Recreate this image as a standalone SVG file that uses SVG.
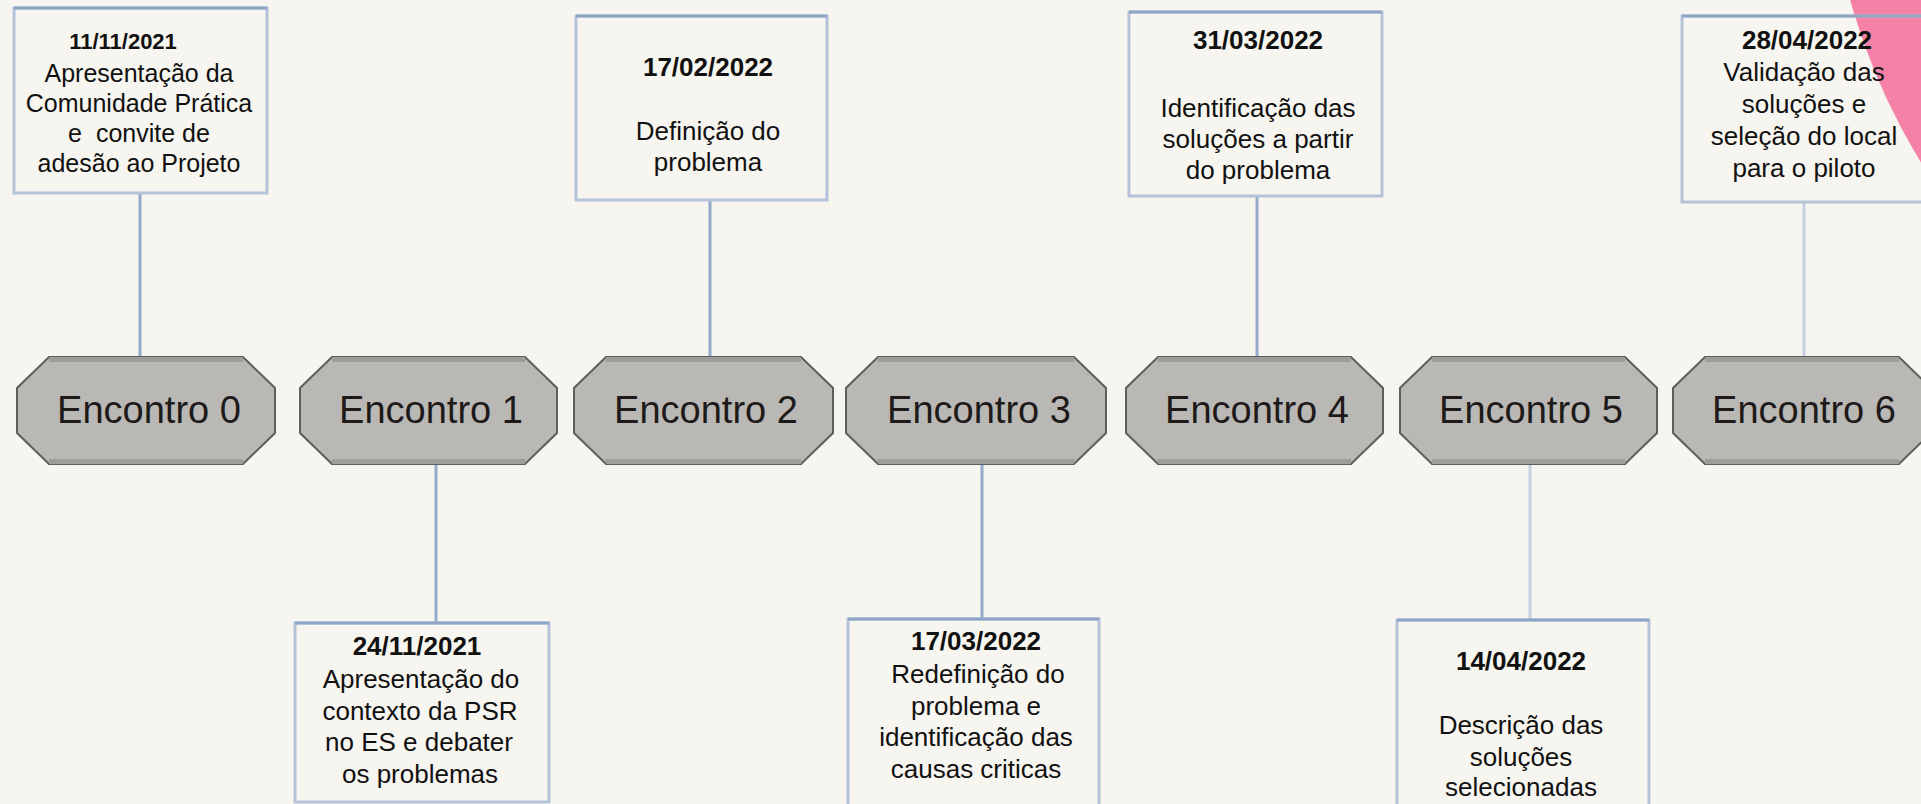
<svg xmlns="http://www.w3.org/2000/svg" width="1921" height="804" viewBox="0 0 1921 804">
<style>
.bg{fill:#F7F5EF}
.oct{fill:#B9B8B4;stroke:#5E5E5E;stroke-width:2}
.band{fill:#9E9D9A}
.lbl{font-family:"Liberation Sans",Arial,sans-serif;font-size:38px;fill:#1E1A1A;text-anchor:middle}
.box{fill:none;stroke:#B4C3D9;stroke-width:3}
.boxtop{stroke:#8EA5C8;stroke-width:3}
.t{font-family:"Liberation Sans",Arial,sans-serif;font-size:26px;fill:#111;text-anchor:middle}
.d{font-weight:bold}
.c{stroke:#94AACB;stroke-width:3;fill:none}
.cl{stroke:#C6D1E0;stroke-width:3;fill:none}
</style>
<rect class="bg" x="0" y="0" width="1921" height="804"/>
<circle cx="2462" cy="-170" r="635" fill="#F582A6"/>

<g id="connectors">
<line class="c" x1="140" y1="193" x2="140" y2="362"/>
<line class="c" x1="436" y1="460" x2="436" y2="623"/>
<line class="c" x1="710" y1="200" x2="710" y2="362"/>
<line class="c" x1="982" y1="460" x2="982" y2="619"/>
<line class="c" x1="1257" y1="196" x2="1257" y2="362"/>
<line class="cl" x1="1530" y1="460" x2="1530" y2="620"/>
<line class="cl" x1="1804" y1="202" x2="1804" y2="362"/>
</g>

<g id="encontro0">
<polygon class="oct" points="49,357 243,357 275,388 275,433 243,464 49,464 17,433 17,388"/>
<rect class="band" x="49" y="357" width="194" height="5"/>
<rect class="band" x="49" y="459" width="194" height="5"/>
<text class="lbl" x="149" y="423">Encontro 0</text>
</g>
<g id="encontro1">
<polygon class="oct" points="332,357 525,357 557,388 557,433 525,464 332,464 300,433 300,388"/>
<rect class="band" x="332" y="357" width="193" height="5"/>
<rect class="band" x="332" y="459" width="193" height="5"/>
<text class="lbl" x="431" y="423">Encontro 1</text>
</g>
<g id="encontro2">
<polygon class="oct" points="606,357 801,357 833,388 833,433 801,464 606,464 574,433 574,388"/>
<rect class="band" x="606" y="357" width="195" height="5"/>
<rect class="band" x="606" y="459" width="195" height="5"/>
<text class="lbl" x="706" y="423">Encontro 2</text>
</g>
<g id="encontro3">
<polygon class="oct" points="878,357 1074,357 1106,388 1106,433 1074,464 878,464 846,433 846,388"/>
<rect class="band" x="878" y="357" width="196" height="5"/>
<rect class="band" x="878" y="459" width="196" height="5"/>
<text class="lbl" x="979" y="423">Encontro 3</text>
</g>
<g id="encontro4">
<polygon class="oct" points="1158,357 1351,357 1383,388 1383,433 1351,464 1158,464 1126,433 1126,388"/>
<rect class="band" x="1158" y="357" width="193" height="5"/>
<rect class="band" x="1158" y="459" width="193" height="5"/>
<text class="lbl" x="1257" y="423">Encontro 4</text>
</g>
<g id="encontro5">
<polygon class="oct" points="1432,357 1625,357 1657,388 1657,433 1625,464 1432,464 1400,433 1400,388"/>
<rect class="band" x="1432" y="357" width="193" height="5"/>
<rect class="band" x="1432" y="459" width="193" height="5"/>
<text class="lbl" x="1531" y="423">Encontro 5</text>
</g>
<g id="encontro6">
<polygon class="oct" points="1705,357 1899,357 1931,388 1931,433 1899,464 1705,464 1673,433 1673,388"/>
<rect class="band" x="1705" y="357" width="194" height="5"/>
<rect class="band" x="1705" y="459" width="194" height="5"/>
<text class="lbl" x="1804" y="423">Encontro 6</text>
</g>

<g id="box0">
<rect class="box" x="14" y="8" width="253" height="185"/>
<line class="boxtop" x1="14" y1="8" x2="267" y2="8"/>
<text class="t d" x="123" y="49" style="font-size:22px">11/11/2021</text>
<text class="t" style="font-size:25px" x="139" y="82">Apresentação da</text>
<text class="t" style="font-size:25px" x="139" y="112">Comunidade Prática</text>
<text class="t" style="font-size:25px;white-space:pre" x="139" y="142" xml:space="preserve">e  convite de</text>
<text class="t" style="font-size:25px" x="139" y="172">adesão ao Projeto</text>
</g>

<g id="box1">
<rect class="box" x="295" y="623" width="254" height="179"/>
<line class="boxtop" x1="295" y1="623" x2="549" y2="623"/>
<text class="t d" x="417" y="655">24/11/2021</text>
<text class="t" x="421" y="688">Apresentação do</text>
<text class="t" x="420" y="720">contexto da PSR</text>
<text class="t" x="419" y="751">no ES e debater</text>
<text class="t" x="420" y="783">os problemas</text>
</g>

<g id="box2">
<rect class="box" x="576" y="16" width="251" height="184"/>
<line class="boxtop" x1="576" y1="16" x2="827" y2="16"/>
<text class="t d" x="708" y="76">17/02/2022</text>
<text class="t" x="708" y="140">Definição do</text>
<text class="t" x="708" y="171">problema</text>
</g>

<g id="box3">
<rect class="box" x="848" y="619" width="251" height="194"/>
<line class="boxtop" x1="848" y1="619" x2="1099" y2="619"/>
<text class="t d" x="976" y="650">17/03/2022</text>
<text class="t" x="978" y="683">Redefinição do</text>
<text class="t" x="976" y="715">problema e</text>
<text class="t" x="976" y="746">identificação das</text>
<text class="t" x="976" y="778">causas criticas</text>
</g>

<g id="box4">
<rect class="box" x="1129" y="12" width="253" height="184"/>
<line class="boxtop" x1="1129" y1="12" x2="1382" y2="12"/>
<text class="t d" x="1258" y="49">31/03/2022</text>
<text class="t" x="1258" y="117">Identificação das</text>
<text class="t" x="1258" y="148">soluções a partir</text>
<text class="t" x="1258" y="179">do problema</text>
</g>

<g id="box5">
<rect class="box" x="1397" y="620" width="252" height="193"/>
<line class="boxtop" x1="1397" y1="620" x2="1649" y2="620"/>
<text class="t d" x="1521" y="670">14/04/2022</text>
<text class="t" x="1521" y="734">Descrição das</text>
<text class="t" x="1521" y="766">soluções</text>
<text class="t" x="1521" y="796">selecionadas</text>
</g>

<g id="box6">
<rect class="box" x="1682" y="16" width="253" height="186"/>
<line class="boxtop" x1="1682" y1="16" x2="1935" y2="16"/>
<text class="t d" x="1807" y="49">28/04/2022</text>
<text class="t" x="1804" y="81">Validação das</text>
<text class="t" x="1804" y="113">soluções e</text>
<text class="t" x="1804" y="145">seleção do local</text>
<text class="t" x="1804" y="177">para o piloto</text>
</g>
</svg>
